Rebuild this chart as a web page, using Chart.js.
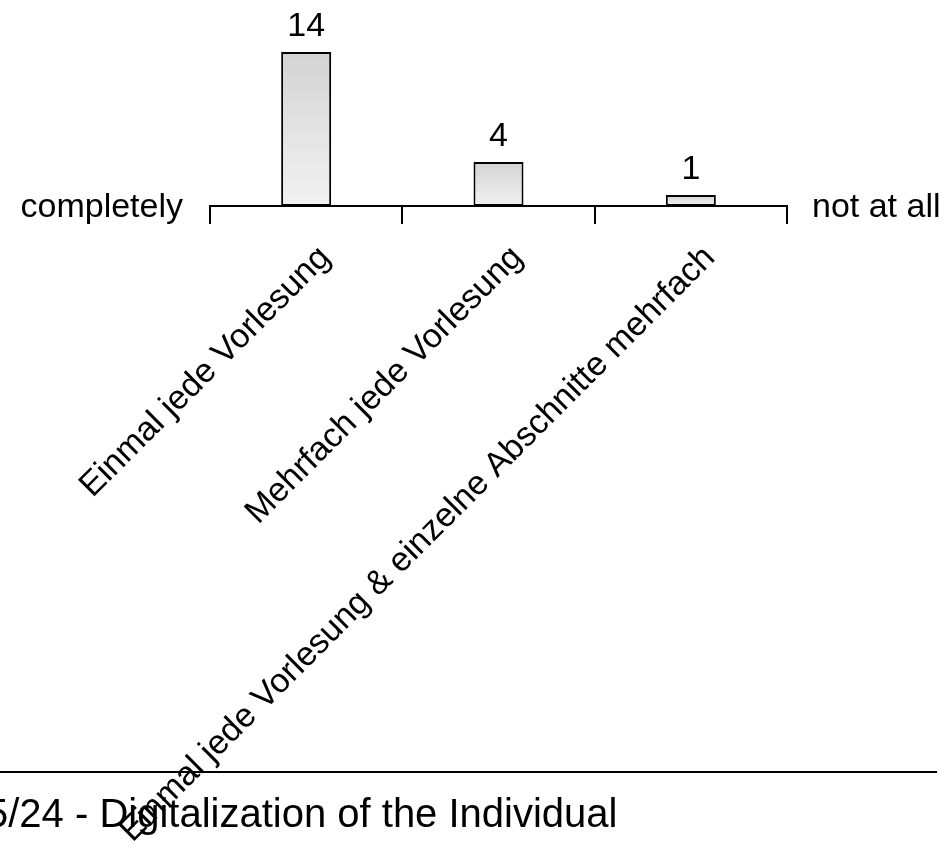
<!DOCTYPE html>
<html>
<head>
<meta charset="utf-8">
<script src="https://cdn.jsdelivr.net/npm/chart.js@4.4.0/dist/chart.umd.min.js"></script>
<style>
    html, body { margin: 0; padding: 0; background: #fff; }
    canvas { display: block; }
</style>
</head>
<body>
<canvas id="chart" width="950" height="847"></canvas>
<script>
const categories = [
    'Einmal jede Vorlesung',
    'Mehrfach jede Vorlesung',
    'Einmal jede Vorlesung & einzelne Abschnitte mehrfach'
];
const counts = [14, 4, 1];
const scaleEnds = ['completely', 'not at all'];
const footerText = '5/24 - Digitalization of the Individual';

const FONT = '"Liberation Sans", Arial, sans-serif';

// vertical gradient per bar, darker at the top
function barFill(context) {
    const chart = context.chart;
    const y = chart.scales.y;
    if (!y || !chart.chartArea) return '#e6e6e6';
    const top = y.getPixelForValue(counts[context.dataIndex]);
    const bottom = y.getPixelForValue(0);
    const g = chart.ctx.createLinearGradient(0, top, 0, bottom);
    g.addColorStop(0, '#d3d3d3');
    g.addColorStop(1, '#f2f2f2');
    return g;
}

const extras = {
    id: 'extras',
    afterDatasetsDraw(chart) {
        const ctx = chart.ctx;
        const meta = chart.getDatasetMeta(0);
        ctx.save();
        ctx.fillStyle = '#000';
        ctx.font = '34px ' + FONT;
        ctx.textAlign = 'center';
        ctx.textBaseline = 'alphabetic';
        meta.data.forEach((bar, i) => {
            ctx.fillText(String(counts[i]), bar.x, bar.y - 16);
        });
        ctx.restore();
    },
    afterDraw(chart) {
        const ctx = chart.ctx;
        const area = chart.chartArea;
        ctx.save();
        ctx.fillStyle = '#000';
        ctx.font = '34px ' + FONT;
        ctx.textBaseline = 'alphabetic';
        ctx.textAlign = 'right';
        ctx.fillText(scaleEnds[0], area.left - 27, area.bottom + 11);
        ctx.textAlign = 'left';
        ctx.fillText(scaleEnds[1], area.right + 25, area.bottom + 11);

        // footer rule and title
        ctx.strokeStyle = '#000';
        ctx.lineWidth = 2;
        ctx.beginPath();
        ctx.moveTo(0, 772);
        ctx.lineTo(937, 772);
        ctx.stroke();
        ctx.font = '40px ' + FONT;
        ctx.textAlign = 'left';
        ctx.fillText(footerText, -14, 827);
        ctx.restore();
    }
};

new Chart(document.getElementById('chart'), {
    type: 'bar',
    data: {
        labels: categories,
        datasets: [{
            data: counts,
            backgroundColor: barFill,
            borderColor: '#000',
            borderWidth: 2,
            borderSkipped: false,
            categoryPercentage: 1,
            barPercentage: 0.26
        }]
    },
    options: {
        responsive: false,
        animation: false,
        events: [],
        layout: {
            padding: { left: 210, right: 163, top: 52, bottom: 0 }
        },
        scales: {
            x: {
                offset: true,
                border: { display: true, color: '#000', width: 2 },
                grid: {
                    offset: true,
                    drawOnChartArea: false,
                    drawTicks: true,
                    tickLength: 18,
                    color: '#000',
                    lineWidth: 2
                },
                ticks: {
                    autoSkip: false,
                    minRotation: 45,
                    maxRotation: 45,
                    labelOffset: 19,
                    padding: 14,
                    color: '#000',
                    font: { family: FONT, size: 34 }
                },
                afterFit(scale) {
                    // axis band reaches the bottom of the canvas, so the plot ends at y = 206
                    scale.height = 641;
                }
            },
            y: {
                display: false,
                min: 0,
                max: 14
            }
        },
        plugins: {
            legend: { display: false },
            tooltip: { enabled: false },
            title: { display: false }
        }
    },
    plugins: [extras]
});
</script>
</body>
</html>
